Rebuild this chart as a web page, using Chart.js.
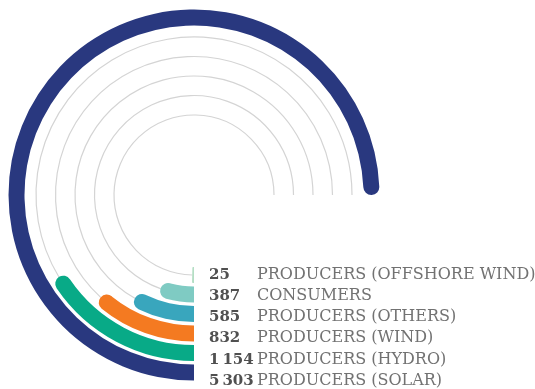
<!DOCTYPE html>
<html>
<head>
<meta charset="utf-8">
<script src="https://cdn.jsdelivr.net/npm/chart.js@4.4.1/dist/chart.umd.min.js"></script>
<style>
  html, body { margin: 0; padding: 0; background: #fff; overflow: hidden; }
  canvas { display: block; }
</style>
</head>
<body>
<canvas id="rings" width="535" height="389"></canvas>
<script>
// Ring data, outermost ring first
const categories = [
  'PRODUCERS (SOLAR)',
  'PRODUCERS (HYDRO)',
  'PRODUCERS (WIND)',
  'PRODUCERS (OTHERS)',
  'CONSUMERS',
  'PRODUCERS (OFFSHORE WIND)'
];
const counts = [5303, 1154, 832, 585, 387, 25];

const ringColors = ['#29387f', '#08aa87', '#f47a21', '#39a6bd', '#7fcbc3', '#b4dec4'];
const trackColor = '#d4d4d4';

const scaleMax = Math.max(...counts);   // a full 270° sweep
const RING = 16;                        // ring thickness (weight units = px here)
const GAP = 3.5;                        // white space between rings

function formatCount(v) {
  return String(v).replace(/\B(?=(\d{3})+(?!\d))/g, '\u202f');
}

const datasets = [];
counts.forEach((v, i) => {
  if (i > 0) {
    datasets.push({ data: [1], backgroundColor: 'rgba(0,0,0,0)', borderWidth: 0, weight: GAP, isGap: true });
  }
  datasets.push({
    label: categories[i],
    data: [v, scaleMax - v],
    backgroundColor: [ringColors[i], 'rgba(0,0,0,0)'],
    borderWidth: 0,
    weight: RING,
    borderRadius: (c) => c.dataIndex === 0
      ? { outerStart: 0, innerStart: 0, outerEnd: RING / 2, innerEnd: RING / 2 }
      : 0
  });
});

// thin grey guide along the unfilled part of each ring
const trackPlugin = {
  id: 'ringTracks',
  beforeDatasetsDraw(chart) {
    const ctx = chart.ctx;
    ctx.save();
    ctx.strokeStyle = trackColor;
    ctx.lineWidth = 1.2;
    chart.data.datasets.forEach((ds, di) => {
      if (ds.isGap) return;
      const rest = chart.getDatasetMeta(di).data[1];
      if (!rest) return;
      const p = rest.getProps(['x', 'y', 'startAngle', 'endAngle', 'innerRadius', 'outerRadius'], true);
      if (p.endAngle - p.startAngle <= 0.0001) return;
      ctx.beginPath();
      ctx.arc(p.x, p.y, (p.innerRadius + p.outerRadius) / 2, p.startAngle, p.endAngle);
      ctx.stroke();
    });
    ctx.restore();
  }
};

// value + category rows next to the ring starts
const labelPlugin = {
  id: 'ringLabels',
  afterDraw(chart) {
    const ctx = chart.ctx;
    ctx.save();
    ctx.textBaseline = 'alphabetic';
    const n = counts.length;
    for (let r = 0; r < n; r++) {
      const i = n - 1 - r;               // innermost ring on the top row
      const base = 278.5 + r * 21.3;
      ctx.font = 'bold 15px "DejaVu Serif"';
      ctx.fillStyle = '#505050';
      ctx.fillText(formatCount(counts[i]), 209, base);
      ctx.font = '16px "DejaVu Serif"';
      ctx.fillStyle = '#727272';
      ctx.fillText(categories[i], 257, base);
    }
    ctx.restore();
  }
};

new Chart(document.getElementById('rings'), {
  type: 'doughnut',
  data: { labels: ['value', 'rest'], datasets },
  options: {
    responsive: false,
    animation: false,
    events: [],
    rotation: 180,
    circumference: 270,
    cutout: 72,
    layout: { padding: { left: 8.5, top: 9.5, right: 155.5, bottom: 8.5 } },
    plugins: { legend: { display: false }, tooltip: { enabled: false } }
  },
  plugins: [trackPlugin, labelPlugin]
});
</script>
</body>
</html>
